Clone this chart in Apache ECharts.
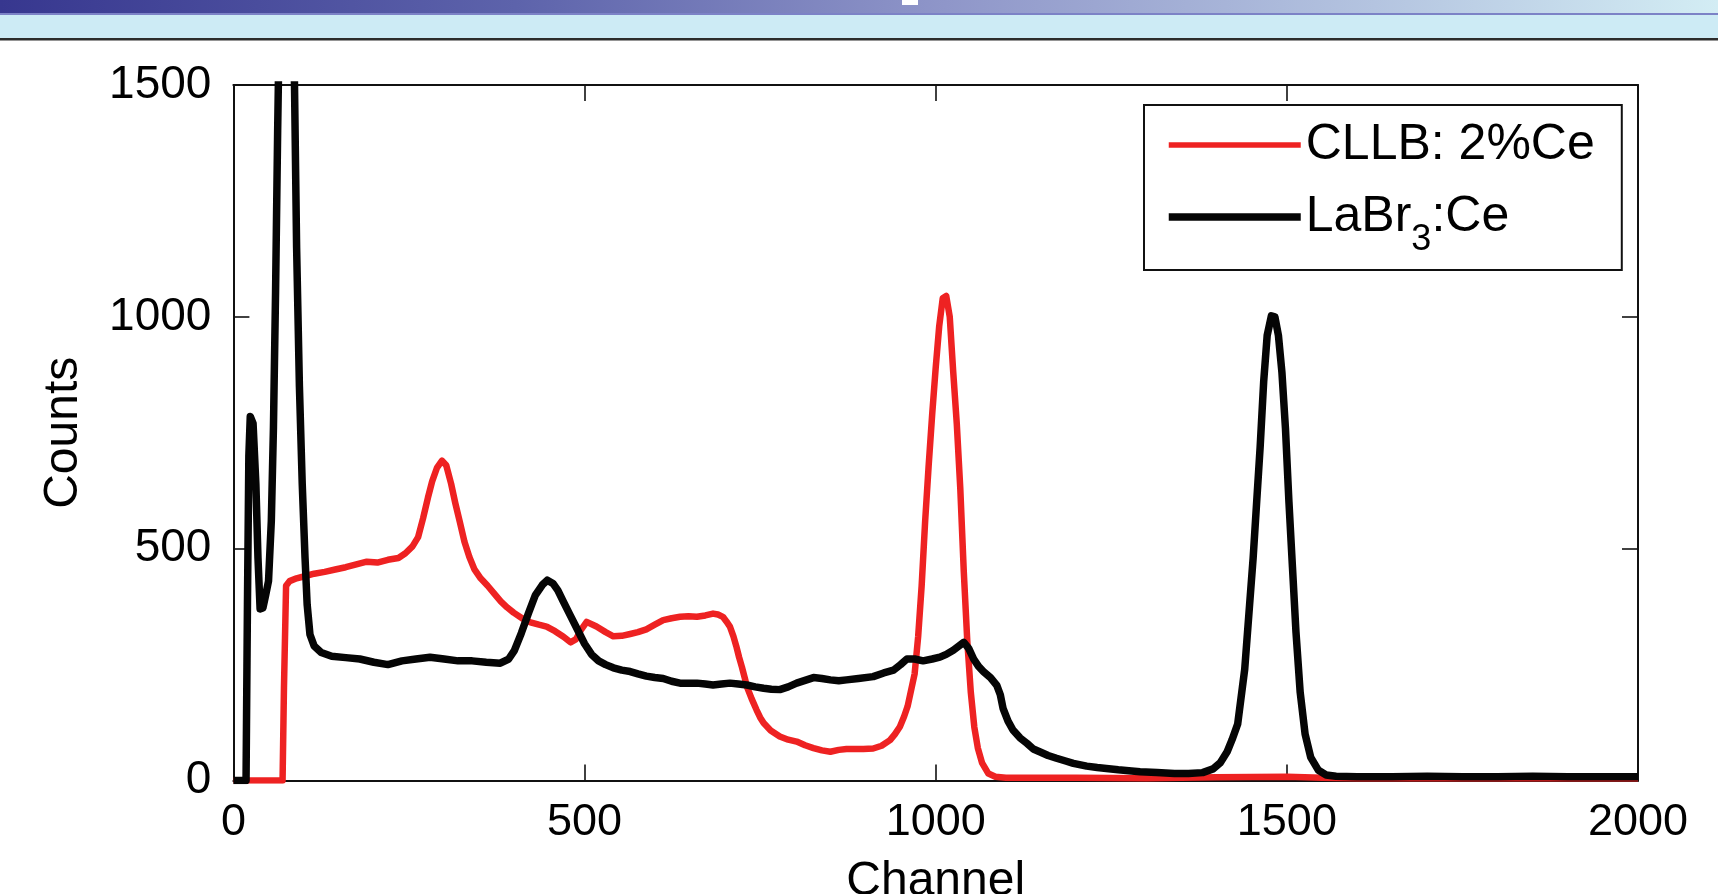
<!DOCTYPE html>
<html>
<head>
<meta charset="utf-8">
<title>CLLB vs LaBr3 spectra</title>
<script src="https://cdn.jsdelivr.net/npm/echarts@6.0.0/dist/echarts.min.js"></script>
<style>
  html, body { margin: 0; padding: 0; background: #ffffff; }
  #chart { width: 1718px; height: 894px; }
</style>
</head>
<body>
<div id="chart"></div>
<script>
// Pulse-height spectra: CLLB:2%Ce (red) and LaBr3:Ce (black)
const cllbChannels = [0, 20, 70, 72, 75, 80, 90, 100, 115, 130, 145, 160, 175, 190, 205, 220, 235, 245, 255, 263, 270, 277, 283, 290, 297, 303, 310, 316, 322, 329, 336, 343, 352, 362, 372, 381, 390, 399, 411, 423, 435, 446, 458, 470, 480, 488, 495, 503, 517, 530, 541, 553, 565, 576, 588, 600, 612, 624, 636, 648, 660, 672, 683, 690, 697, 702, 707, 712, 716, 720, 724, 728, 731, 738, 745, 750, 755, 765, 778, 790, 802, 814, 826, 838, 850, 862, 873, 885, 897, 911, 923, 935, 942, 949, 955, 960, 965, 970, 975, 980, 985, 990, 995, 1000, 1005, 1010, 1015, 1020, 1025, 1030, 1035, 1040, 1045, 1050, 1055, 1060, 1066, 1075, 1085, 1100, 1200, 1300, 1400, 1500, 1550, 1600, 1700, 1800, 1900, 2000];
const cllbCounts = [0, 0, 0, 200, 420, 430, 436, 440, 446, 450, 455, 460, 466, 472, 470, 476, 480, 490, 505, 525, 565, 610, 645, 675, 690, 680, 640, 598, 560, 515, 482, 456, 436, 420, 402, 386, 373, 362, 350, 341, 336, 332, 322, 310, 298, 305, 325, 342, 332, 320, 311, 312, 316, 320, 326, 336, 346, 350, 353, 354, 353, 356, 360, 358, 353, 343, 332, 311, 290, 266, 245, 222, 203, 176, 152, 136, 124, 108, 95, 88, 84, 76, 70, 65, 62, 66, 68, 68, 68, 69, 75, 87, 100, 116, 138, 160, 195, 230, 310, 420, 560, 680, 790, 890, 980, 1040, 1045, 1000, 880, 770, 630, 450, 300, 190, 115, 70, 38, 15, 8, 6, 6, 5, 7, 8, 6, 5, 5, 5, 5, 5];

const labrChannels = [0, 18, 20, 22, 24, 28, 32, 35, 38, 42, 46, 50, 54, 57, 60, 63, 67, 72, 77, 82, 87, 90, 94, 98, 102, 105, 109, 115, 125, 140, 160, 180, 200, 220, 240, 260, 280, 300, 320, 340, 360, 380, 392, 400, 410, 420, 430, 440, 447, 455, 462, 470, 480, 490, 500, 510, 520, 530, 541, 553, 565, 576, 588, 600, 612, 624, 636, 648, 660, 672, 683, 695, 707, 719, 731, 743, 755, 766, 778, 790, 802, 814, 826, 838, 850, 862, 873, 890, 911, 926, 940, 950, 959, 970, 982, 995, 1006, 1015, 1025, 1033, 1040, 1047, 1054, 1061, 1068, 1078, 1087, 1092, 1096, 1103, 1110, 1120, 1130, 1139, 1148, 1160, 1172, 1185, 1196, 1215, 1230, 1243, 1260, 1275, 1291, 1315, 1340, 1360, 1380, 1395, 1405, 1415, 1422, 1430, 1440, 1447, 1452, 1457, 1462, 1467, 1472, 1478, 1483, 1488, 1493, 1498, 1503, 1508, 1513, 1519, 1526, 1534, 1545, 1556, 1570, 1600, 1650, 1700, 1750, 1800, 1850, 1900, 1950, 2000];
const labrCounts = [0, 0, 380, 700, 785, 770, 640, 480, 370, 372, 400, 430, 560, 760, 1050, 1400, 1800, 2200, 2300, 1950, 1500, 1150, 850, 640, 480, 380, 315, 290, 276, 268, 265, 262, 255, 250, 258, 262, 266, 262, 258, 258, 255, 253, 262, 280, 318, 360, 400, 422, 432, 425, 410, 385, 355, 325, 295, 272, 258, 250, 243, 238, 235, 230, 225, 222, 220, 214, 210, 210, 210, 208, 206, 208, 210, 208, 206, 202, 199, 197, 196, 202, 210, 216, 222, 220, 217, 215, 217, 220, 224, 232, 238, 250, 262, 262, 258, 262, 266, 272, 281, 290, 298, 285, 262, 246, 235, 222, 205, 185, 155, 128, 109, 92, 80, 68, 62, 54, 48, 42, 37, 31, 28, 26, 23, 21, 19, 17, 15, 15, 17, 25, 38, 62, 88, 122, 240, 380, 480, 600, 720, 860, 960, 1002, 1000, 960, 880, 760, 600, 460, 320, 190, 100, 50, 22, 12, 9, 8, 8, 9, 8, 8, 9, 8, 8, 8];

const xTicks = { min: 0, max: 2000, step: 500 };
const yTicks = { min: 0, max: 1500, step: 500 };

const seriesNames = ['CLLB: 2%Ce', 'LaBr3:Ce'];
const seriesColors = ['#ee2222', '#050505'];

function pairs(xs, ys) {
  return xs.map((x, i) => [x, ys[i]]);
}

const FONT = '"Liberation Sans", Arial, Helvetica, sans-serif';
const INK = '#111111';

const chart = echarts.init(document.getElementById('chart'), null, { renderer: 'canvas' });

function plain(v) { return String(v); }

function frameAxis(position, ticks, withLabels, extra) {
  return Object.assign({
    type: 'value',
    position: position,
    min: ticks.min,
    max: ticks.max,
    interval: ticks.step,
    axisLine: { show: true, onZero: false, lineStyle: { color: INK, width: 2 } },
    axisTick: { show: true, inside: true, length: 16, lineStyle: { color: INK, width: 1.6 } },
    axisLabel: { show: withLabels },
    splitLine: { show: false }
  }, extra || {});
}

const option = {
  animation: false,
  backgroundColor: '#ffffff',
  graphic: [
    // page header strip
    {
      type: 'rect', left: 0, top: 0, z: 0,
      shape: { width: 1718, height: 13 },
      style: {
        fill: new echarts.graphic.LinearGradient(0, 0, 1, 0, [
          { offset: 0, color: '#37378f' },
          { offset: 0.3, color: '#5d63ab' },
          { offset: 0.55, color: '#8f96c9' },
          { offset: 0.8, color: '#b4c4e0' },
          { offset: 1, color: '#d3edf4' }
        ])
      }
    },
    { type: 'rect', left: 0, top: 13, shape: { width: 1718, height: 2 }, style: { fill: '#7c82c6' } },
    { type: 'rect', left: 0, top: 15, shape: { width: 1718, height: 23 }, style: { fill: '#cdebf5' } },
    { type: 'rect', left: 0, top: 38, shape: { width: 1718, height: 2.5 }, style: { fill: '#2c2c2c' } },
    { type: 'rect', left: 902, top: 0, shape: { width: 16, height: 5 }, style: { fill: '#ffffff' } }
  ],
  grid: { left: 233.4, right: 80, top: 85, bottom: 113.5, containLabel: false, outerBoundsMode: 'none' },
  legend: {
    orient: 'vertical',
    left: 1144,
    top: 105,
    padding: [15, 27, 12, 21],
    itemWidth: 132,
    itemHeight: 14,
    itemGap: 22,
    borderColor: INK,
    borderWidth: 2,
    backgroundColor: '#ffffff',
    selectedMode: false,
    data: [
      { name: seriesNames[0], itemStyle: { color: 'rgba(0,0,0,0)', borderWidth: 0 }, lineStyle: { color: seriesColors[0], width: 5.5 } },
      { name: seriesNames[1], itemStyle: { color: 'rgba(0,0,0,0)', borderWidth: 0 }, lineStyle: { color: seriesColors[1], width: 7.5 } }
    ],
    formatter: function (name) {
      if (name === 'LaBr3:Ce') return '{n|LaBr}{s|3}{n|:Ce}';
      return '{n|' + name + '}';
    },
    textStyle: {
      color: '#000',
      fontFamily: FONT,
      fontSize: 50,
      rich: {
        n: { fontSize: 50, fontFamily: FONT, color: '#000' },
        s: { fontSize: 36, fontFamily: FONT, color: '#000', padding: [46, 0, 0, 0] }
      }
    }
  },
  xAxis: [
    frameAxis('bottom', xTicks, true, {
      name: 'Channel',
      nameLocation: 'middle',
      nameGap: 77,
      nameTextStyle: { fontSize: 48, fontFamily: FONT, color: '#000' },
      axisLabel: { show: true, fontSize: 45, fontFamily: FONT, color: '#000', margin: 20, formatter: plain, showMinLabel: true, showMaxLabel: true }
    }),
    frameAxis('top', xTicks, false)
  ],
  yAxis: [
    frameAxis('left', yTicks, true, {
      name: 'Counts',
      nameLocation: 'middle',
      nameGap: 146,
      nameTextStyle: { fontSize: 48, fontFamily: FONT, color: '#000' },
      axisLabel: { show: true, fontSize: 46, fontFamily: FONT, color: '#000', margin: 22, formatter: plain, showMinLabel: true, showMaxLabel: true }
    }),
    frameAxis('right', yTicks, false)
  ],
  series: [
    {
      name: seriesNames[0],
      type: 'line',
      xAxisIndex: 0,
      yAxisIndex: 0,
      symbol: 'none',
      showSymbol: false,
      clip: true,
      color: seriesColors[0],
      lineStyle: { color: seriesColors[0], width: 6.5, join: 'round' },
      data: pairs(cllbChannels, cllbCounts),
      z: 2
    },
    {
      name: seriesNames[1],
      type: 'line',
      xAxisIndex: 0,
      yAxisIndex: 0,
      symbol: 'none',
      showSymbol: false,
      clip: true,
      color: seriesColors[1],
      lineStyle: { color: seriesColors[1], width: 7.5, join: 'round' },
      data: pairs(labrChannels, labrCounts),
      z: 3
    }
  ]
};

chart.setOption(option);
</script>
</body>
</html>
